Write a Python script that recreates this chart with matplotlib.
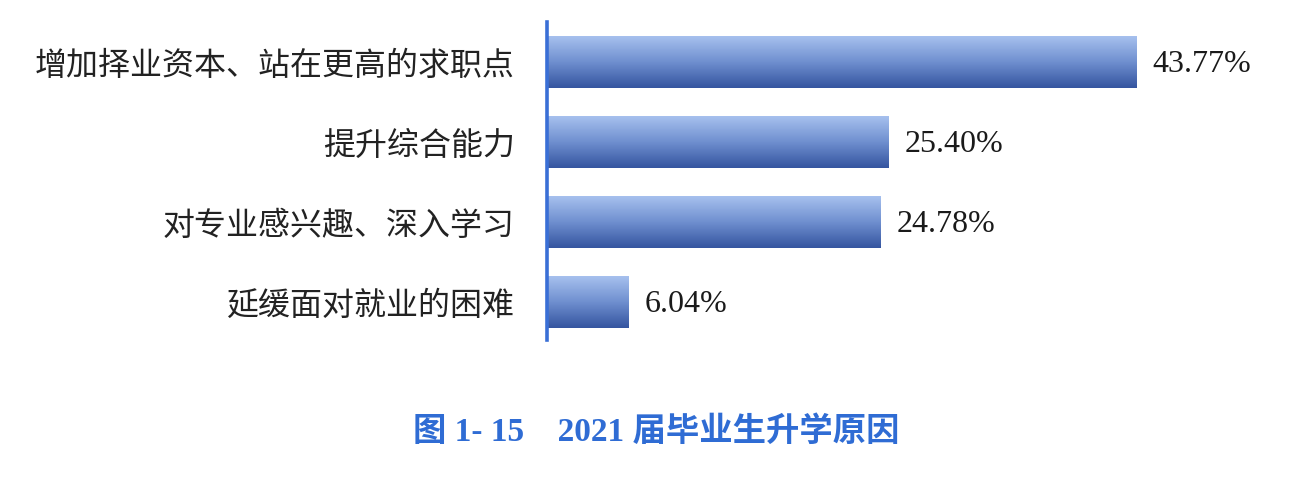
import numpy as np
import matplotlib

matplotlib.use("Agg")
import matplotlib.pyplot as plt
from matplotlib.colors import LinearSegmentedColormap

# data
reasons = ["增加择业资本、站在更高的求职点", "提升综合能力",
           "对专业感兴趣、深入学习", "延缓面对就业的困难"]
shares = [43.77, 25.40, 24.78, 6.04]
value_labels = ["43.77%", "25.40%", "24.78%", "6.04%"]
caption = "图 1- 15    2021 届毕业生升学原因"

fig = plt.figure(figsize=(13.1, 4.82), dpi=100)
ax = fig.add_axes([547 / 1310, 1 - 340 / 482, (1260 - 547) / 1310, (340 - 22) / 482])

# vertical gradient: light blue on top, deep blue at the bottom
cmap = LinearSegmentedColormap.from_list("bar", ["#a6c0ee", "#6f8fcf", "#3555a0"])
grad = np.linspace(0, 1, 64).reshape(-1, 1)
bar_h = 0.64
ypos = np.arange(len(reasons))
for y, v in zip(ypos, shares):
    ax.imshow(grad, cmap=cmap, aspect="auto", interpolation="bicubic",
              extent=(0, v, y + bar_h / 2, y - bar_h / 2), zorder=2)

ax.set_xlim(0, (1260 - 547) / 13.46)
ax.set_ylim(3.475, -0.506)

for y, v, lab in zip(ypos, shares, value_labels):
    ax.text(v + 1.2, y + 0.03, lab, va="center", ha="left", fontsize=23,
            family="Liberation Serif", color="#1a1a1a")

ax.set_yticks(ypos)
ax.set_yticklabels(reasons, fontsize=23, family=["Noto Sans CJK SC", "DejaVu Sans"],
                   color="#222222")
ax.tick_params(axis="y", length=0, pad=23)
ax.set_xticks([])
for side in ["top", "right", "bottom"]:
    ax.spines[side].set_visible(False)
ax.spines["left"].set_color("#3a6fd6")
ax.spines["left"].set_linewidth(2.6)
ax.spines["left"].set_zorder(3)

fig.text(656 / 1310, 1 - 432 / 482, caption, ha="center", va="center",
         fontsize=24, fontweight="bold", color="#2f6cd4",
         family=["Liberation Serif", "Noto Sans CJK SC"])

fig.savefig("out.png", dpi=100)
